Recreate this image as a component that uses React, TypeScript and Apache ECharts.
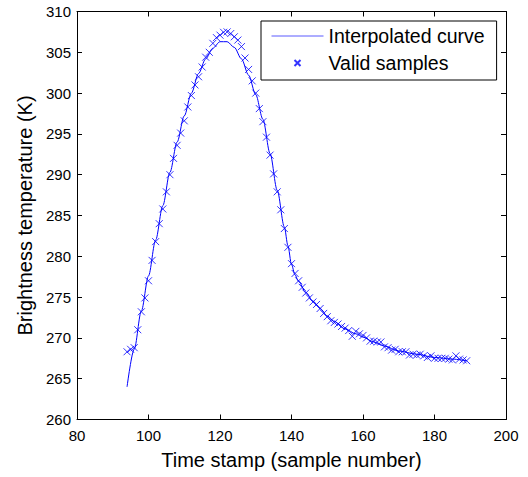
import React, { useEffect, useRef } from "react";
import * as echarts from "echarts";

// Valid samples (sample number, brightness temperature in K)
const sampleX = [
  94, 95, 96, 97, 98, 99, 100, 101, 102, 103, 104, 105, 106, 107, 108, 109, 110,
  111, 112, 113, 114, 115, 116, 117, 118, 119, 120, 121, 122, 123, 124, 125, 126,
  127, 128, 129, 130, 131, 132, 133, 134, 135, 136, 137, 138, 139, 140, 141, 142,
  143, 144, 145, 146, 147, 148, 149, 150, 151, 152, 153, 154, 155, 156, 157, 158,
  159, 160, 161, 162, 163, 164, 165, 166, 167, 168, 169, 170, 171, 172, 173, 174,
  175, 176, 177, 178, 179, 180, 181, 182, 183, 184, 185, 186, 187, 188, 189,
];
const sampleY = [
  268.3, 268.6, 268.8, 271.0, 273.2, 274.9, 277.0, 279.5, 281.8, 284.0, 285.8, 287.9,
  290.0, 292.0, 293.6, 295.1, 296.6, 298.3, 299.7, 301.0, 302.0, 303.2, 304.4, 305.0,
  306.1, 306.8, 307.1, 307.45, 307.5, 307.3, 306.9, 306.5, 305.7, 304.3, 302.9, 301.5,
  300.0, 298.1, 296.5, 294.6, 292.4, 290.1, 287.9, 285.7, 283.4, 281.1, 279.1, 277.9,
  277.0, 276.2, 275.5, 274.9, 274.4, 274.1, 273.6, 273.0, 272.6, 272.1, 271.9, 271.7,
  271.4, 271.2, 270.9, 270.2, 270.8, 270.5, 270.3, 270.0, 269.6, 269.6, 269.5, 269.5,
  268.9, 268.8, 268.5, 268.6, 268.3, 268.3, 268.3, 267.9, 268.0, 267.9, 268.0, 267.8,
  267.6, 267.8, 267.5, 267.5, 267.5, 267.5, 267.4, 267.3, 267.8, 267.4, 267.3, 267.2,
];

// Interpolated curve
const curveX = [
  94, 96, 98, 100, 102, 104, 106, 108, 110, 112, 114, 116, 118, 120, 122, 124, 126,
  128, 130, 132, 134, 136, 138, 139, 140, 141, 142, 144, 146, 148, 150, 152, 155,
  158, 160, 163, 166, 170, 175, 180, 185, 189,
];
const curveY = [
  264.0, 268.6, 273.3, 277.6, 282.0, 286.2, 290.3, 294.0, 297.2, 300.0, 302.4, 304.2,
  305.5, 306.3, 306.3, 305.6, 304.2, 302.2, 299.8, 296.8, 292.6, 288.1, 283.6, 281.3,
  279.0, 277.7, 276.9, 275.6, 274.5, 273.6, 272.7, 272.0, 271.1, 270.5, 270.1, 269.5,
  269.0, 268.4, 268.0, 267.6, 267.4, 267.2,
];

const seriesNames = ["Interpolated curve", "Valid samples"];
const xTitle = "Time stamp (sample number)";
const yTitle = "Brightness temperature (K)";

const FONT = "'Liberation Sans', Arial, Helvetica, sans-serif";

export default function App() {
  const ref = useRef<HTMLDivElement>(null);

  useEffect(() => {
    if (!ref.current) return;
    const chart = echarts.init(ref.current, undefined, { renderer: "svg" });

    const axisCommon = {
      axisLine: { show: true, lineStyle: { color: "#000", width: 1 } },
      axisTick: { show: true, inside: true, length: 5, lineStyle: { color: "#000" } },
      splitLine: { show: false },
    };

    chart.setOption({
      animation: false,
      backgroundColor: "#fff",
      textStyle: { fontFamily: FONT },
      grid: {
        left: 77,
        top: 11.5,
        width: 429,
        height: 408,
        show: false,
      },
      legend: {
        orient: "vertical",
        left: 261,
        top: 21,
        itemWidth: 52,
        itemHeight: 6,
        itemGap: 3,
        backgroundColor: "#fff",
        borderColor: "#000",
        borderWidth: 1,
        borderRadius: 0,
        padding: [3, 12, 5, 10],
        textStyle: { fontSize: 19.5, color: "#000", fontFamily: FONT, lineHeight: 24 },
        data: [
          {
            name: seriesNames[0],
            itemStyle: { opacity: 0 },
            lineStyle: { color: "#5a5aff", width: 1 },
          },
          { name: seriesNames[1] },
        ],
      },
      xAxis: [
        {
          type: "value",
          min: 80,
          max: 200,
          interval: 20,
          position: "bottom",
          name: xTitle,
          nameLocation: "middle",
          nameGap: 30,
          nameTextStyle: { fontSize: 20, color: "#000", fontFamily: FONT },
          axisLabel: { fontSize: 15, color: "#000", margin: 8, fontFamily: FONT },
          ...axisCommon,
        },
        {
          type: "value",
          min: 80,
          max: 200,
          interval: 20,
          position: "top",
          axisLabel: { show: false },
          ...axisCommon,
        },
      ],
      yAxis: [
        {
          type: "value",
          min: 260,
          max: 310,
          interval: 5,
          position: "left",
          name: yTitle,
          nameLocation: "middle",
          nameGap: 42,
          nameTextStyle: { fontSize: 20, color: "#000", fontFamily: FONT },
          axisLabel: { fontSize: 15, color: "#000", margin: 6, fontFamily: FONT },
          ...axisCommon,
        },
        {
          type: "value",
          min: 260,
          max: 310,
          interval: 5,
          position: "right",
          axisLabel: { show: false },
          ...axisCommon,
        },
      ],
      series: [
        {
          name: seriesNames[0],
          type: "line",
          data: curveX.map((x, i) => [x, curveY[i]]),
          symbol: "none",
          smooth: 0.3,
          smoothMonotone: "x",
          lineStyle: { color: "#0000ff", width: 1 },
          itemStyle: { color: "#0000ff" },
          z: 3,
        },
        {
          name: seriesNames[1],
          type: "scatter",
          data: sampleX.map((x, i) => [x, sampleY[i]]),
          symbol: "path://M0,0L10,10M10,0L0,10",
          symbolSize: 7,
          itemStyle: { color: "transparent", borderColor: "#0000ff", borderWidth: 1 },
          z: 3,
        },
      ],
    });

    return () => chart.dispose();
  }, []);

  return (
    <div
      ref={ref}
      style={{ position: "fixed", left: 0, top: 0, width: 528, height: 477 }}
    />
  );
}
